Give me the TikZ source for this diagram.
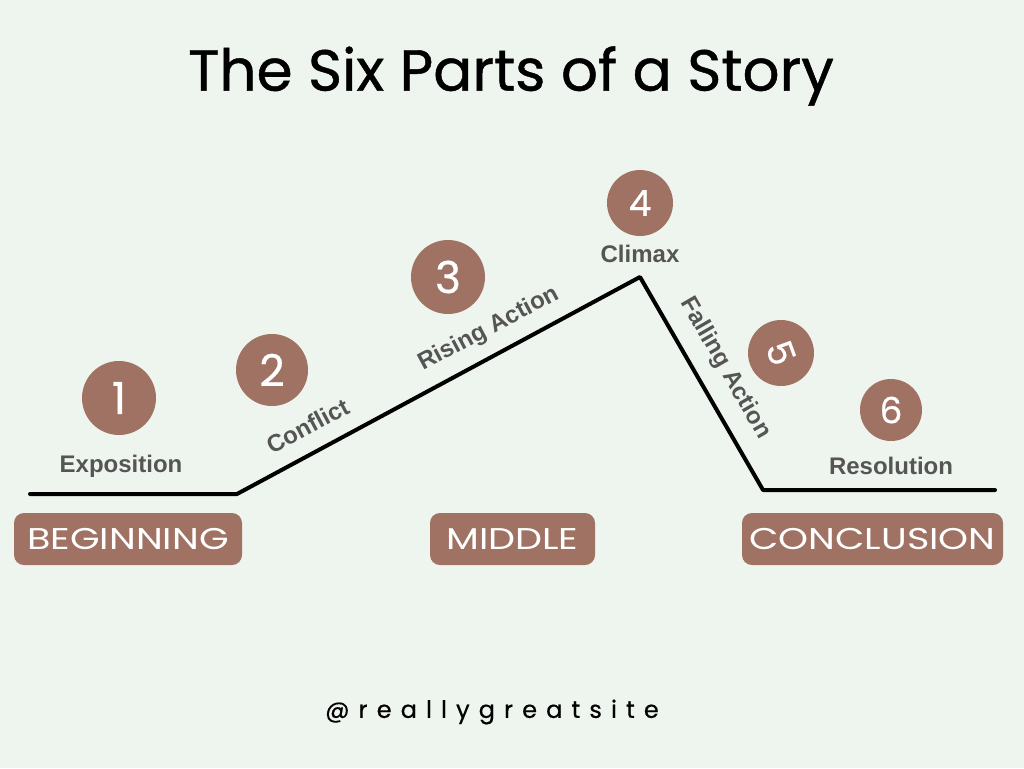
\documentclass[tikz,border=0pt]{standalone}
\usepackage{graphicx}
\usepackage{fontspec}
\setmainfont{Liberation Sans}
\newfontfamily\popfont{Poppins}
\newfontfamily\digfont[FakeBold=0.6]{Poppins}
\newfontfamily\titlefont[FakeBold=0.8]{Poppins}
\newfontfamily\sitefont[LetterSpace=38,FakeBold=0.6]{Poppins}
\definecolor{bg}{HTML}{EEF5EE}
\definecolor{brown}{HTML}{A07264}
\definecolor{lbl}{HTML}{555555}
\tikzset{
  numc/.style={circle,fill=brown,minimum size=74pt,inner sep=0pt,text=white,font=\digfont\fontsize{44}{44}\selectfont},
  numsmall/.style={font=\digfont\fontsize{36}{36}\selectfont},
  partlbl/.style={text=lbl,font=\bfseries\fontsize{24}{24}\selectfont,inner sep=0pt},
  sect/.style={fill=brown,rounded corners=10pt,text=white,font=\popfont\fontsize{30}{30}\selectfont,inner sep=0pt,minimum height=52pt},
  arc/.style={line width=4pt,line cap=round,line join=round,black}
}
\newcommand{\wide}[1]{\scalebox{1.27}[1]{#1}}
\begin{document}
\begin{tikzpicture}[x=1pt,y=-1pt]
\fill[bg] (0,0) rectangle (1024,768);
\useasboundingbox (0,0) rectangle (1024,768);
\node[font=\titlefont\fontsize{58}{58}\selectfont,inner sep=0pt] (title) at (511,76) {The Six Parts of a Story};
% plot line
\coordinate (p0) at (30,494);
\coordinate (p1) at (237,494);
\coordinate (p2) at (640,277);
\coordinate (p3) at (763,490);
\coordinate (p4) at (995,490);
\draw[arc] (p0) -- (p1) -- (p2) -- (p3) -- (p4);
% circles
\node[numc] (c1) at (119,398) {1};
\node[numc,minimum size=72pt] (c2) at (272,370) {2};
\node[numc] (c3) at (448,277) {3};
\node[numc,numsmall,minimum size=66pt] (c4) at (640,203) {4};
\node[numc,numsmall,minimum size=66pt,rotate=-70] (c5) at (781,353) {5};
\node[numc,numsmall,minimum size=62pt] (c6) at (891,410) {6};
% labels
\node[partlbl] (l1) at (121,466) {Exposition};
\node[partlbl,rotate=28] (l2) at (308,426) {Conflict};
\node[partlbl,rotate=28] (l3) at (489,329) {Rising Action};
\node[partlbl] (l4) at (640,254) {Climax};
\node[partlbl,rotate=-60] (l5) at (725,368) {Falling Action};
\node[partlbl] (l6) at (891,466) {Resolution};
% sections
\node[sect,minimum width=228pt] (b1) at (128,539) {\wide{BEGINNING}};
\node[sect,minimum width=165pt] (b2) at (512.5,539) {\wide{MIDDLE}};
\node[sect,minimum width=261pt] (b3) at (872.5,539) {\wide{CONCLUSION}};
\node[font=\sitefont\fontsize{24}{24}\selectfont,inner sep=0pt] (site) at (492,712) {@reallygreatsite};
\end{tikzpicture}
\end{document}
